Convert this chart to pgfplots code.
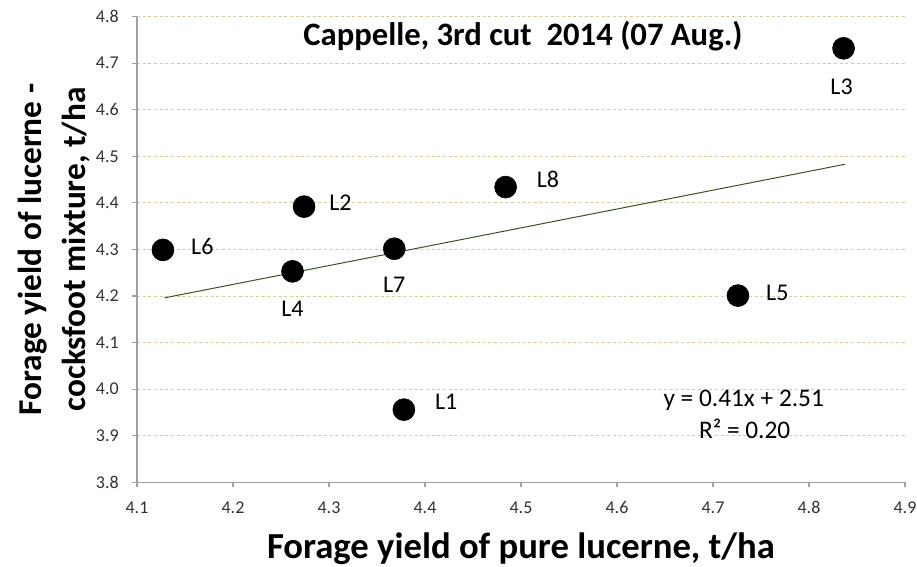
\documentclass[border=0pt]{standalone}
\usepackage{pgfplots}
\pgfplotsset{compat=1.18}
\usepackage{fontspec}
\setmainfont{Carlito}
\definecolor{gridc}{RGB}{214,204,160}
\definecolor{axc}{RGB}{160,160,160}
\definecolor{trendc}{RGB}{60,80,40}
\definecolor{tickc}{RGB}{50,50,50}
\begin{document}
\begin{tikzpicture}
\useasboundingbox (-102.75pt,-63.5pt) rectangle (585pt,361.7pt);
\begin{axis}[
  at={(0,0)}, anchor=south west,
  scale only axis, width=576pt, height=349.2pt,
  xmin=4.1, xmax=4.9, ymin=3.8, ymax=4.8,
  xtick distance=0.1, ytick distance=0.1,
  axis lines=left,
  axis line style={-, draw=axc, line width=0.8pt},
  tick style={draw=axc, line width=0.8pt},
  tick align=outside, major tick length=3.75pt,
  ymajorgrids,
  grid style={draw=gridc, line width=0.75pt, dash pattern=on 2.25pt off 2pt},
  /pgf/number format/assume math mode=true,
  /pgf/number format/.cd, fixed, fixed zerofill, precision=1, /pgfplots/.cd,
  ticklabel style={font=\fontsize{13.5}{16}\selectfont, text=tickc, inner sep=0pt},
  xticklabel style={anchor=north, yshift=-10.5pt},
  yticklabel style={anchor=east, xshift=-9.75pt},
  clip=false,
]
\addplot[draw=trendc, line width=0.75pt] coordinates {(4.1285,4.196) (4.8375,4.483)};
\addplot[only marks, mark=*, mark size=8.25pt, mark options={fill=black, draw=black}] coordinates {
(4.127,4.299)
(4.262,4.253)
(4.274,4.392)
(4.368,4.3015)
(4.378,3.956)
(4.484,4.434)
(4.726,4.201)
(4.836,4.732)
};
\begin{scope}[every node/.style={font=\fontsize{18}{21}\selectfont, inner sep=0pt}]
\node[anchor=west] at ([xshift=21pt,yshift=2.5pt]axis cs:4.127,4.299) {L6};
\node[anchor=center] at ([yshift=-27.75pt]axis cs:4.262,4.253) {L4};
\node[anchor=west] at ([xshift=18.75pt,yshift=3pt]axis cs:4.274,4.392) {L2};
\node[anchor=center] at ([yshift=-27pt]axis cs:4.368,4.3015) {L7};
\node[anchor=west] at ([xshift=23.25pt,yshift=6pt]axis cs:4.378,3.956) {L1};
\node[anchor=west] at ([xshift=23.25pt,yshift=5.5pt]axis cs:4.484,4.434) {L8};
\node[anchor=west] at ([xshift=21pt,yshift=2.25pt]axis cs:4.726,4.201) {L5};
\node[anchor=center] at ([xshift=-1.5pt,yshift=-28.5pt]axis cs:4.836,4.732) {L3};
\end{scope}
\node[font=\fontsize{19}{22}\selectfont, inner sep=0pt] at (axis cs:4.732,3.977) {y = 0.41x + 2.51};
\node[font=\fontsize{19}{22}\selectfont, inner sep=0pt] at (axis cs:4.733,3.915) {R² = 0.20};
\node[font=\fontsize{24.5}{29}\selectfont\bfseries, inner sep=0pt] at (rel axis cs:0.5026,0.9585) {Cappelle, 3rd cut\ \ 2014 (07 Aug.)};
\node[font=\fontsize{27.5}{32}\selectfont\bfseries, inner sep=0pt, anchor=base] at (rel axis cs:0.5,-0.1627) {Forage yield of pure lucerne, t/ha};
\node[font=\fontsize{25}{30}\selectfont\bfseries, inner sep=0pt, anchor=base, rotate=90] at (rel axis cs:-0.1237,0.5) {Forage yield of lucerne -};
\node[font=\fontsize{25}{30}\selectfont\bfseries, inner sep=0pt, anchor=base, rotate=90] at (rel axis cs:-0.0677,0.5) {cocksfoot mixture, t/ha};
\end{axis}
\end{tikzpicture}
\end{document}
